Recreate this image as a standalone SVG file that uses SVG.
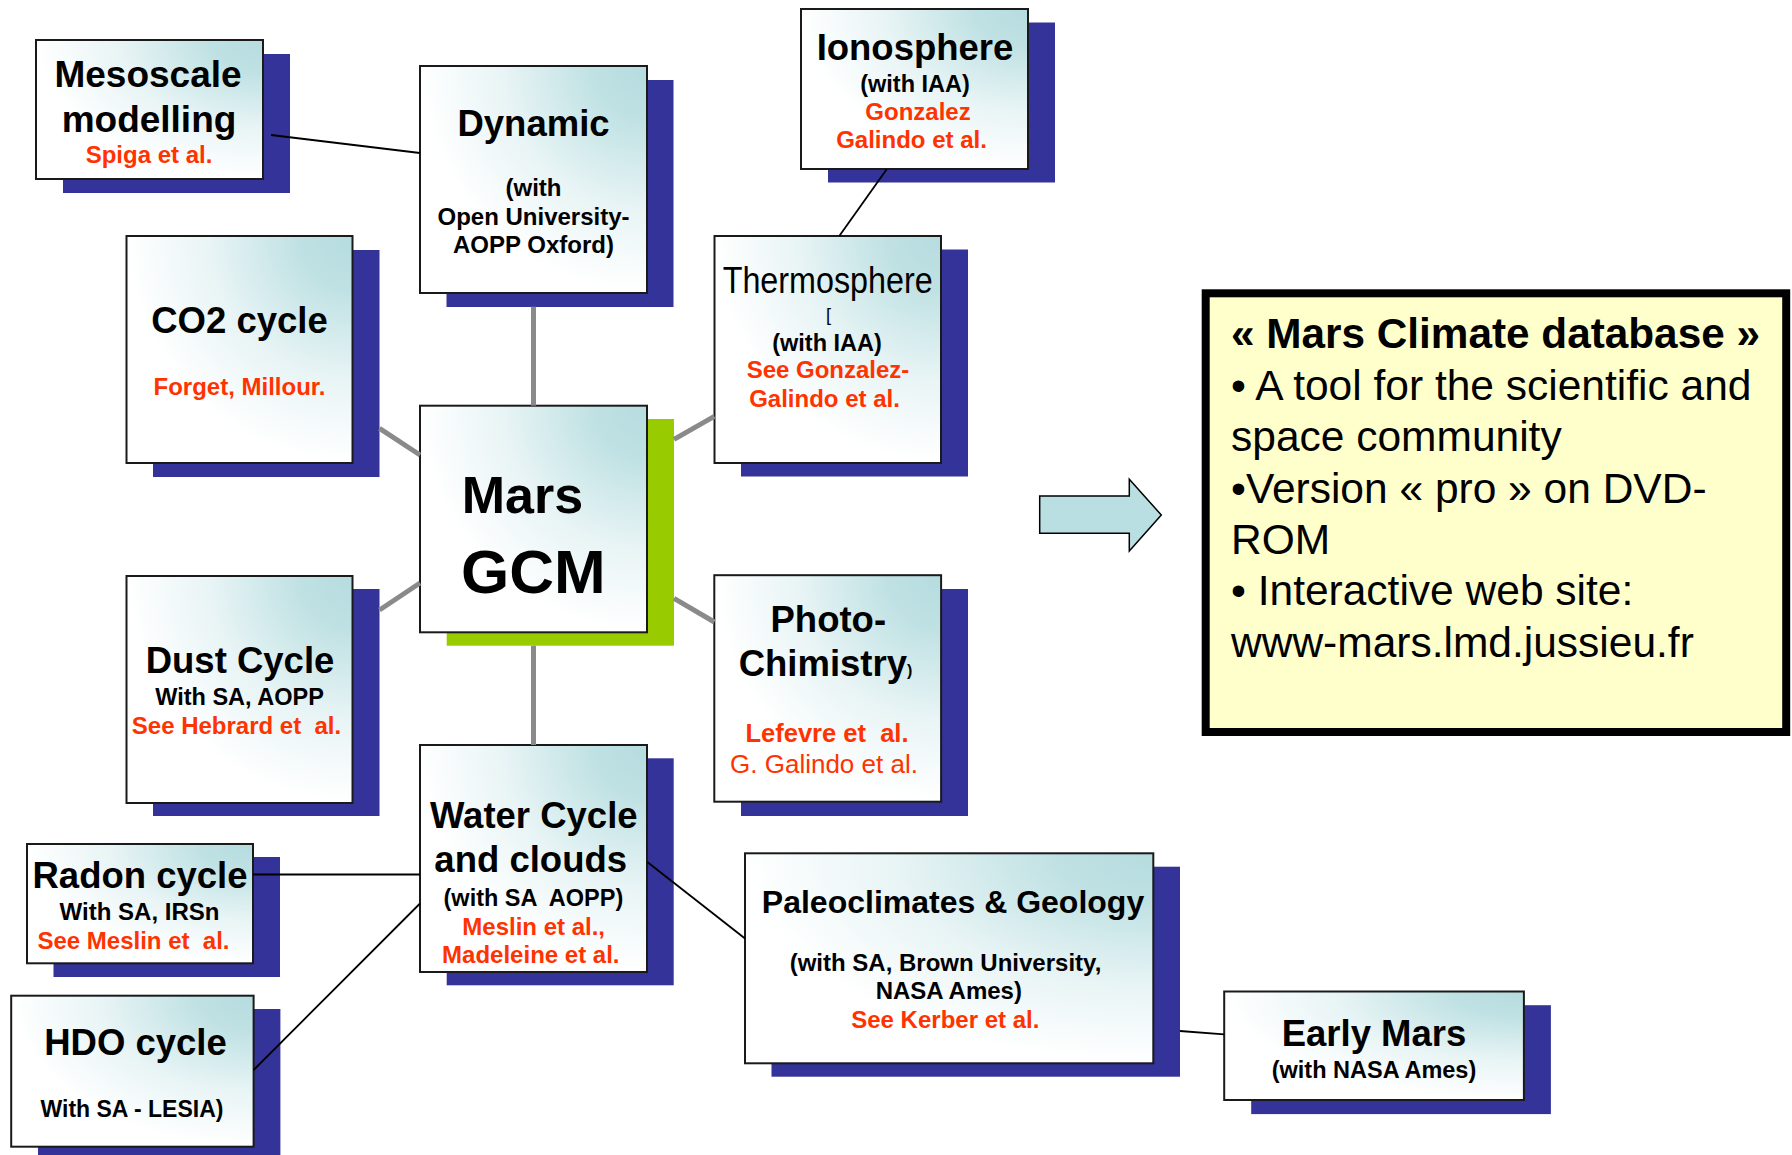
<svg xmlns="http://www.w3.org/2000/svg" width="1792" height="1155" viewBox="0 0 1792 1155">
  <defs>
    <!-- pale teal wash fading from the top-right corner of every box -->
    <radialGradient id="boxFill" cx="1" cy="0" r="1.05">
      <stop offset="0" stop-color="#B6DCDF"/>
      <stop offset="0.22" stop-color="#BFE1E3"/>
      <stop offset="0.6" stop-color="#E8F4F5"/>
      <stop offset="0.95" stop-color="#FFFFFF"/>
    </radialGradient>
    <style>
      .shadow { fill: #333399; }
      .shadow-main { fill: #99CC00; }
      .box { fill: url(#boxFill); stroke: #1a1a1a; stroke-width: 2; }
      text { font-family: "Liberation Sans", Arial, sans-serif; font-weight: bold; fill: #000; }
      .c { text-anchor: middle; }
      .t { font-size: 36.5px; }
      .s { font-size: 24px; }
      .red { fill: #FF3300; }
      .reg { font-weight: normal; }
      .link { stroke: #000; stroke-width: 1.8; fill: none; }
      .spoke { stroke: #8A8A8A; stroke-width: 5; fill: none; }
      .panel { fill: #FFFFCC; stroke: #000; stroke-width: 8; }
      .panel-text { font-size: 42.5px; font-weight: normal; }
    </style>
  </defs>

  <rect width="1792" height="1155" fill="#FFFFFF"/>

  <!-- Nodes -->
  <g id="mesoscale">
    <rect class="shadow" x="63" y="54" width="227" height="139"/>
    <rect class="box" x="36" y="40" width="227" height="139"/>
    <text class="c" x="148" y="87.3" style="font-size:37px">Mesoscale</text>
    <text class="c" x="149" y="131.7" style="font-size:37px">modelling</text>
    <text class="c s red" x="149" y="163.3">Spiga et al.</text>
  </g>

  <g id="dynamic">
    <rect class="shadow" x="446.5" y="80" width="227" height="227"/>
    <rect class="box" x="420" y="66" width="227" height="227"/>
    <text class="c t" x="533.5" y="136">Dynamic</text>
    <text class="c s" x="533.5" y="196">(with</text>
    <text class="c s" x="533.5" y="225">Open University-</text>
    <text class="c s" x="533.5" y="253">AOPP Oxford)</text>
  </g>

  <g id="ionosphere">
    <rect class="shadow" x="828" y="22.5" width="227" height="160"/>
    <rect class="box" x="801" y="9" width="227" height="160"/>
    <text class="c t" x="915" y="60">Ionosphere</text>
    <text class="c" x="915" y="91.7" style="font-size:23.5px">(with IAA)</text>
    <text class="c s red" x="918" y="120">Gonzalez</text>
    <text class="c s red" x="911.5" y="148.3">Galindo et al.</text>
  </g>

  <g id="co2-cycle">
    <rect class="shadow" x="153" y="250" width="226.5" height="227"/>
    <rect class="box" x="126.5" y="236" width="226" height="227"/>
    <text class="c t" x="239.5" y="333.3">CO2 cycle</text>
    <text class="c s red" x="239.5" y="395">Forget, Millour.</text>
  </g>

  <g id="thermosphere">
    <rect class="shadow" x="741" y="249.5" width="227" height="227"/>
    <rect class="box" x="714.5" y="236" width="226.5" height="227"/>
    <text class="c reg" x="827.7" y="292.7" style="font-size:36px" textLength="210" lengthAdjust="spacingAndGlyphs">Thermosphere</text>
    <text class="c reg" x="828.5" y="321" style="font-size:18px">[</text>
    <text class="c" x="827" y="351" style="font-size:23.5px">(with IAA)</text>
    <text class="c s red" x="828" y="378.3">See Gonzalez-</text>
    <text class="c s red" x="824.5" y="406.7">Galindo et al.</text>
  </g>

  <g id="mars-gcm">
    <rect class="shadow-main" x="446.7" y="419" width="227.3" height="226.7"/>
    <rect class="box" x="420" y="405.7" width="227" height="226.6"/>
    <text x="461.7" y="513.3" style="font-size:52px">Mars</text>
    <text x="461" y="593.3" style="font-size:62px">GCM</text>
  </g>

  <g id="dust-cycle">
    <rect class="shadow" x="153" y="589" width="226.5" height="227"/>
    <rect class="box" x="126.5" y="576" width="226" height="227"/>
    <text class="c t" x="240" y="673.3">Dust Cycle</text>
    <text class="c" x="239.5" y="705" style="font-size:23.5px">With SA, AOPP</text>
    <text class="c s red" x="236.5" y="734.3" xml:space="preserve">See Hebrard et  al.</text>
  </g>

  <g id="photo-chimistry">
    <rect class="shadow" x="741" y="589" width="227" height="227"/>
    <rect class="box" x="714.3" y="575.2" width="226.8" height="226.5"/>
    <text class="c t" x="828.3" y="631.7">Photo-</text>
    <text class="c t" x="825.5" y="676">Chimistry<tspan style="font-size:16px">)</tspan></text>
    <text class="c red" x="827" y="741.7" style="font-size:25.5px" xml:space="preserve">Lefevre et  al.</text>
    <text class="c red reg" x="824" y="773.3" style="font-size:26px">G. Galindo et al.</text>
  </g>

  <g id="water-cycle">
    <rect class="shadow" x="446.7" y="758.3" width="227" height="227"/>
    <rect class="box" x="420" y="745" width="227" height="227"/>
    <text class="c t" x="533.8" y="828.3">Water Cycle</text>
    <text class="c t" x="530.7" y="871.7">and clouds</text>
    <text class="c" x="533.4" y="905.7" style="font-size:23.5px" xml:space="preserve">(with SA  AOPP)</text>
    <text class="c s red" x="533.7" y="935">Meslin et al.,</text>
    <text class="c s red" x="530.8" y="962.7">Madeleine et al.</text>
  </g>

  <g id="radon-cycle">
    <rect class="shadow" x="53.5" y="857" width="226.5" height="120"/>
    <rect class="box" x="27" y="844" width="226" height="119.3"/>
    <text class="c t" x="140" y="888.3">Radon cycle</text>
    <text class="c s" x="139.5" y="920">With SA, IRSn</text>
    <text class="c s red" x="133.5" y="949.3" xml:space="preserve">See Meslin et  al.</text>
  </g>

  <g id="hdo-cycle">
    <rect class="shadow" x="38" y="1009" width="242.4" height="151"/>
    <rect class="box" x="11.2" y="995.7" width="242.4" height="151"/>
    <text class="c t" x="135.5" y="1055">HDO cycle</text>
    <text class="c" x="132" y="1116.7" style="font-size:23px">With SA - LESIA)</text>
  </g>

  <g id="paleoclimates">
    <rect class="shadow" x="771.5" y="866.7" width="408.5" height="210"/>
    <rect class="box" x="745" y="853.3" width="408.3" height="210"/>
    <text class="c" x="953" y="913.3" style="font-size:32px">Paleoclimates &amp; Geology</text>
    <text class="c s" x="945.5" y="970.7">(with SA, Brown University,</text>
    <text class="c s" x="948.8" y="999.3">NASA Ames)</text>
    <text class="c s red" x="945.3" y="1028.3">See Kerber et al.</text>
  </g>

  <g id="early-mars">
    <rect class="shadow" x="1251.2" y="1005.2" width="299.7" height="108.9"/>
    <rect class="box" x="1224.2" y="991.5" width="299.7" height="108.5"/>
    <text class="c t" x="1374" y="1045.8">Early Mars</text>
    <text class="c" x="1374" y="1078" style="font-size:23.5px">(with NASA Ames)</text>
  </g>

  <!-- Connectors -->
  <g id="connectors">
    <line class="spoke" x1="533.5" y1="306.7" x2="533.5" y2="405.7"/>
    <line class="spoke" x1="533.5" y1="645.7" x2="533.5" y2="745"/>
    <line class="spoke" x1="379.5" y1="428.3" x2="420" y2="455"/>
    <line class="spoke" x1="379.5" y1="610" x2="420" y2="583"/>
    <line class="spoke" x1="674" y1="439.3" x2="714.3" y2="416.3"/>
    <line class="spoke" x1="674" y1="598.3" x2="714.3" y2="622"/>
    <line class="link" x1="271" y1="135" x2="420" y2="153"/>
    <line class="link" x1="886.7" y1="169.3" x2="839.3" y2="236"/>
    <line class="link" x1="253" y1="874.5" x2="420" y2="874.5"/>
    <line class="link" x1="253.6" y1="1070" x2="420" y2="903.5"/>
    <line class="link" x1="647.3" y1="862" x2="745" y2="938.5"/>
    <line class="link" x1="1180" y1="1031" x2="1224.2" y2="1034.4"/>
  </g>

  <!-- Arrow towards the database panel -->
  <g id="arrow">
    <polygon points="1039.7,496 1129.3,496 1129.3,479.3 1161.3,515 1129.3,551 1129.3,533.3 1039.7,533.3" fill="#B9DFE2" stroke="#000" stroke-width="1.5"/>
  </g>

  <!-- Mars Climate Database panel -->
  <g id="mcd-panel">
    <rect class="panel" x="1205.7" y="293.3" width="580.5" height="438.7"/>
    <text x="1231" y="348.3" style="font-size:42.3px">« Mars Climate database »</text>
    <text class="panel-text" x="1231" y="399.7">• A tool for the scientific and</text>
    <text class="panel-text" x="1231" y="451.1">space community</text>
    <text class="panel-text" x="1231" y="502.5">•Version « pro » on DVD-</text>
    <text class="panel-text" x="1231" y="553.9">ROM</text>
    <text class="panel-text" x="1231" y="605.3">• Interactive web site:</text>
    <text class="panel-text" x="1231" y="656.7">www-mars.lmd.jussieu.fr</text>
  </g>
</svg>
